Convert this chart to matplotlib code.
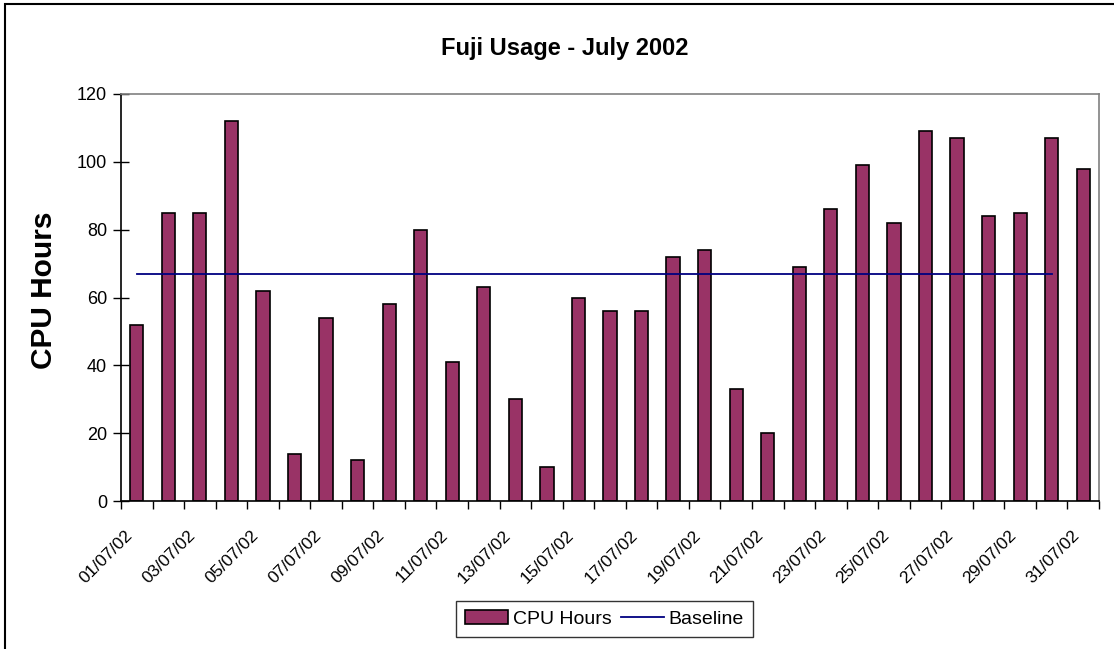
import matplotlib
matplotlib.use("Agg")
import matplotlib.pyplot as plt
import numpy as np
from matplotlib.patches import Rectangle
from matplotlib.lines import Line2D
from matplotlib.transforms import ScaledTranslation

plt.rcParams['font.family'] = ['Liberation Sans', 'DejaVu Sans']

dates = [f"{d:02d}/07/02" for d in range(1, 32)]
cpu_hours = [52, 85, 85, 112, 62, 14, 54, 12, 58, 80, 41, 63, 30, 10, 60, 56,
             56, 72, 74, 33, 20, 69, 86, 99, 82, 109, 107, 84, 85, 107, 98]
baseline_value = 67
baseline_days = 30  # baseline spans 01/07 to 30/07

bar_color = '#993366'
line_color = '#000080'

fig = plt.figure(figsize=(11.14, 6.49), dpi=100)
ax = fig.add_axes([121/1114, 1-501/649, 978/1114, 407/649])

x = np.arange(len(dates))
ax.bar(x, cpu_hours, width=0.42, color=bar_color, edgecolor='black', linewidth=1.2, zorder=2)
xb = np.arange(baseline_days)
ax.plot(xb, [baseline_value]*baseline_days, color=line_color, linewidth=1.3, zorder=3)

ax.set_xlim(-0.5, len(dates)-0.5)
ax.set_ylim(0, 120)
ax.set_yticks(np.arange(0, 121, 20))
ax.tick_params(axis='y', direction='inout', length=12, width=1, labelsize=13, pad=4)

ax.set_xticks(x[::2])
ax.set_xticklabels(dates[::2], rotation=45, ha='right', va='top', rotation_mode='anchor', fontsize=12.5)
ax.tick_params(axis='x', which='major', length=0, pad=12)
ax.set_xticks(np.arange(-0.5, len(dates), 1), minor=True)
ax.tick_params(axis='x', which='minor', direction='out', length=6, width=1)
shift = ScaledTranslation(-0.12, -0.1, fig.dpi_scale_trans)
for lab in ax.get_xticklabels():
    lab.set_transform(lab.get_transform() + shift)

for s in ['top', 'right']:
    ax.spines[s].set_color('#808080')
    ax.spines[s].set_linewidth(1.2)
for s in ['left', 'bottom']:
    ax.spines[s].set_color('black')
    ax.spines[s].set_linewidth(1.2)

ax.set_ylabel('CPU Hours', fontsize=21.5, fontweight='bold')
ax.yaxis.set_label_coords((58-121)/978, (501-290)/407)
fig.text(0.507, 1-48/649, 'Fuji Usage - July 2002', ha='center', va='center',
         fontsize=17, fontweight='bold')

handles = [Rectangle((0, 0), 1, 1, facecolor=bar_color, edgecolor='black', linewidth=1.2),
           Line2D([0], [0], color=line_color, linewidth=1.3)]
leg = fig.legend(handles, ['CPU Hours', 'Baseline'], loc='center', bbox_to_anchor=(604.5/1114, 1-619/649),
                 ncol=2, frameon=True, fancybox=False, fontsize=14, handlelength=2.2,
                 handletextpad=0.25, columnspacing=0.5, borderpad=0.45)
leg.get_frame().set_edgecolor('black')
leg.get_frame().set_linewidth(1)

fig.patches.append(Rectangle((5/1114, -0.05), 1.1, 1-4/649+0.05, transform=fig.transFigure,
                             fill=False, edgecolor='black', linewidth=1.5))

fig.savefig('out.png', dpi=100)
